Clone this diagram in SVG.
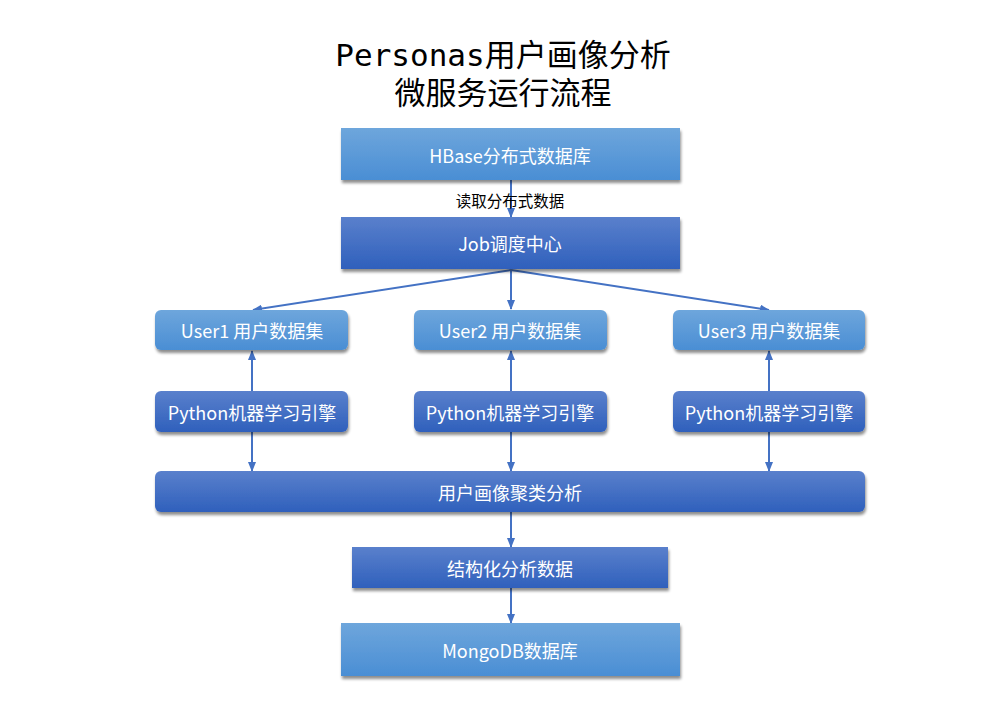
<svg xmlns="http://www.w3.org/2000/svg" width="1007" height="718" viewBox="0 0 1007 718">
<defs>
<linearGradient id="light" x1="0" y1="0" x2="0" y2="1">
<stop offset="0" stop-color="#6ea6dc"/>
<stop offset="1" stop-color="#4a8ed4"/>
</linearGradient>
<linearGradient id="dark" x1="0" y1="0" x2="0" y2="1">
<stop offset="0" stop-color="#5a80cc"/>
<stop offset="1" stop-color="#2f60bc"/>
</linearGradient>
<filter id="sh" x="-10%" y="-20%" width="120%" height="150%">
<feGaussianBlur in="SourceAlpha" stdDeviation="1.5"/>
<feOffset dx="1" dy="2.5" result="b"/>
<feComponentTransfer><feFuncA type="linear" slope="0.45"/></feComponentTransfer>
<feMerge><feMergeNode/><feMergeNode in="SourceGraphic"/></feMerge>
</filter>
<marker id="ah" markerWidth="10" markerHeight="8" refX="9" refY="4" orient="auto" markerUnits="userSpaceOnUse">
<path d="M0,0 L10,4 L0,8 Z" fill="#4472c4"/>
</marker>
</defs>
<style>
.t{font-family:"Noto Sans CJK SC","DejaVu Sans",sans-serif;font-size:18px;fill:#ffffff;text-anchor:middle;dominant-baseline:central}
.title{font-family:"DejaVu Sans Mono","Noto Sans CJK SC",monospace;font-size:31px;fill:#000;text-anchor:middle}
.lbl{font-family:"Noto Sans CJK SC",sans-serif;font-size:15.5px;fill:#000;text-anchor:middle;dominant-baseline:central}
.c{stroke:#4472c4;stroke-width:2;fill:none;marker-end:url(#ah)}
</style>
<rect width="1007" height="718" fill="#ffffff"/>
<g id="title">
<text class="title" x="503" y="66">Personas用户画像分析</text>
<text class="title" x="503" y="104">微服务运行流程</text>
</g>
<g id="connectors">
<line class="c" x1="511" y1="180" x2="511" y2="217"/>
<line class="c" x1="511" y1="270" x2="253" y2="310"/>
<line class="c" x1="511" y1="270" x2="511" y2="309"/>
<line class="c" x1="511" y1="270" x2="769" y2="310"/>
<line class="c" x1="252" y1="391" x2="252" y2="351"/>
<line class="c" x1="511" y1="391" x2="511" y2="351"/>
<line class="c" x1="769" y1="391" x2="769" y2="351"/>
<line class="c" x1="252" y1="432" x2="252" y2="471"/>
<line class="c" x1="511" y1="432" x2="511" y2="471"/>
<line class="c" x1="769" y1="432" x2="769" y2="471"/>
<line class="c" x1="511" y1="512" x2="511" y2="547"/>
<line class="c" x1="511" y1="588" x2="511" y2="623"/>
<text class="lbl" x="510" y="200">读取分布式数据</text>
</g>
<g id="hbase">
<rect x="341" y="128" width="339" height="52" fill="url(#light)" filter="url(#sh)"/>
<text class="t" x="510" y="155">HBase分布式数据库</text>
</g>
<g id="job">
<rect x="341" y="217" width="339" height="52" fill="url(#dark)" filter="url(#sh)"/>
<text class="t" x="510" y="243">Job调度中心</text>
</g>
<g id="user1">
<rect x="155" y="310" width="193" height="40" rx="6" fill="url(#light)" filter="url(#sh)"/>
<text class="t" x="252" y="330">User1 用户数据集</text>
</g>
<g id="user2">
<rect x="414" y="310" width="193" height="40" rx="6" fill="url(#light)" filter="url(#sh)"/>
<text class="t" x="510" y="330">User2 用户数据集</text>
</g>
<g id="user3">
<rect x="673" y="310" width="192" height="40" rx="6" fill="url(#light)" filter="url(#sh)"/>
<text class="t" x="769" y="330">User3 用户数据集</text>
</g>
<g id="python1">
<rect x="155" y="391" width="193" height="41" rx="6" fill="url(#dark)" filter="url(#sh)"/>
<text class="t" x="252" y="412">Python机器学习引擎</text>
</g>
<g id="python2">
<rect x="414" y="391" width="193" height="41" rx="6" fill="url(#dark)" filter="url(#sh)"/>
<text class="t" x="510" y="412">Python机器学习引擎</text>
</g>
<g id="python3">
<rect x="673" y="391" width="192" height="41" rx="6" fill="url(#dark)" filter="url(#sh)"/>
<text class="t" x="769" y="412">Python机器学习引擎</text>
</g>
<g id="cluster">
<rect x="155" y="471" width="710" height="41" rx="6" fill="url(#dark)" filter="url(#sh)"/>
<text class="t" x="510" y="492">用户画像聚类分析</text>
</g>
<g id="structured">
<rect x="352" y="547" width="316" height="41" fill="url(#dark)" filter="url(#sh)"/>
<text class="t" x="510" y="568">结构化分析数据</text>
</g>
<g id="mongodb">
<rect x="341" y="623" width="339" height="53" fill="url(#light)" filter="url(#sh)"/>
<text class="t" x="510" y="650">MongoDB数据库</text>
</g>
</svg>
